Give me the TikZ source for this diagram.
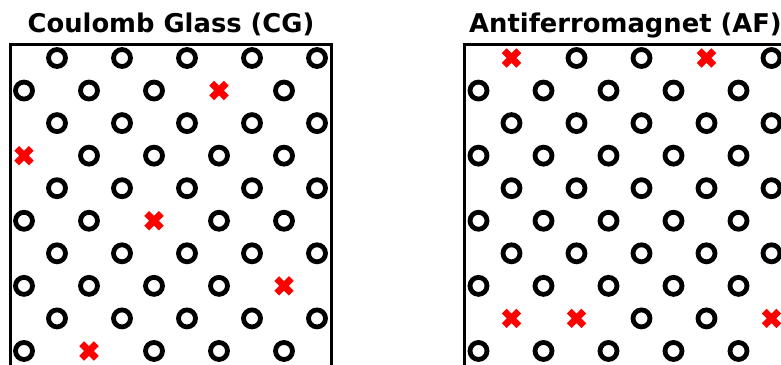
\documentclass[tikz,border=0pt]{standalone}
\usepackage{fontspec}
\setmainfont{DejaVu Sans}
\usetikzlibrary{shapes.misc}
\tikzset{
  ring/.style={circle, draw=black, line width=4.8pt, minimum size=17pt, inner sep=0pt},
  crossmark/.style={cross out, draw=red, line width=6.8pt, minimum size=14.6pt, inner sep=0pt, outer sep=0pt, line cap=butt},
  panelbox/.style={draw=black, line width=3pt},
  paneltitle/.style={font=\fontsize{25.8}{30}\selectfont\bfseries, anchor=base, inner sep=0pt}
}
\def\xx{x}
\begin{document}
\begin{tikzpicture}[x=1pt,y=1pt]
\useasboundingbox (0,0) rectangle (781,-364);
\clip (0,0) rectangle (781,-364);
\node[paneltitle] (tcg) at (171,-32.3) {Coulomb Glass (CG)};
\node[paneltitle] (taf) at (625.5,-32.3) {Antiferromagnet (AF)};
\draw[panelbox] (10.5,-44) rectangle (331.5,-420);
\draw[panelbox] (464.5,-44) rectangle (785.5,-420);
% left panel: Coulomb glass
\foreach \r/\a/\b/\c/\d/\e in {0/o/o/o/o/o,1/o/o/o/x/o,2/o/o/o/o/o,3/x/o/o/o/o,4/o/o/o/o/o,5/o/o/x/o/o,6/o/o/o/o/o,7/o/o/o/o/x,8/o/o/o/o/o,9/o/x/o/o/o}{
  \foreach \k/\m in {0/\a,1/\b,2/\c,3/\d,4/\e}{
    \pgfmathsetmacro\px{10+(mod(\r,2)==0 ? 47 : 14)+65*\k}
    \pgfmathsetmacro\py{-58-32.55*\r}
    \edef\mm{\m}
    \ifx\mm\xx
      \node[crossmark] (cg-\r-\k) at (\px,\py) {};
    \else
      \node[ring] (cg-\r-\k) at (\px,\py) {};
    \fi
  }
}
% right panel: antiferromagnet
\foreach \r/\a/\b/\c/\d/\e in {0/x/o/o/x/o,1/o/o/o/o/o,2/o/o/o/o/o,3/o/o/o/o/o,4/o/o/o/o/o,5/o/o/o/o/o,6/o/o/o/o/o,7/o/o/o/o/o,8/x/x/o/o/x,9/o/o/o/o/o}{
  \foreach \k/\m in {0/\a,1/\b,2/\c,3/\d,4/\e}{
    \pgfmathsetmacro\px{464.5+(mod(\r,2)==0 ? 47 : 14)+65*\k}
    \pgfmathsetmacro\py{-58-32.55*\r}
    \edef\mm{\m}
    \ifx\mm\xx
      \node[crossmark] (af-\r-\k) at (\px,\py) {};
    \else
      \node[ring] (af-\r-\k) at (\px,\py) {};
    \fi
  }
}
\end{tikzpicture}
\end{document}
